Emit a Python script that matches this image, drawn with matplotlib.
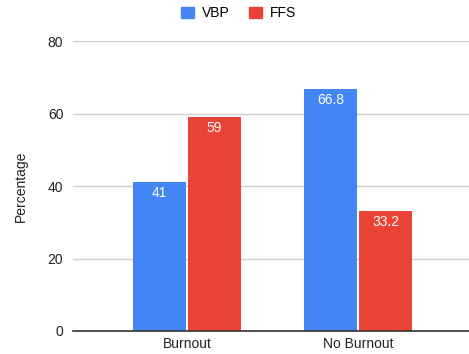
import matplotlib

matplotlib.use("Agg")
import matplotlib.pyplot as plt
import numpy as np
from matplotlib.patches import Patch

plt.rcParams["font.family"] = ["Liberation Sans", "DejaVu Sans"]

categories = ["Burnout", "No Burnout"]
vbp = [41, 66.8]
ffs = [59, 33.2]

BLUE = "#4285F4"
RED = "#EA4335"

fig = plt.figure(figsize=(4.69, 3.54), dpi=100, facecolor="white")
ax = fig.add_axes([0.1557, 0.065, 0.8443, 0.819])

x = np.arange(len(categories))
w = 0.31
off = 0.161
b1 = ax.bar(x - off, vbp, w, color=BLUE, zorder=3)
b2 = ax.bar(x + off, ffs, w, color=RED, zorder=3)

for bars, vals in ((b1, vbp), (b2, ffs)):
    for rect, v in zip(bars, vals):
        label = f"{v:g}"
        ax.text(rect.get_x() + rect.get_width() / 2, v - 3.0, label,
                ha="center", va="center", color="white", fontsize=10, zorder=4)

ax.set_xlim(-0.667, 1.649)
ax.set_ylim(0, 80)
ax.set_yticks([0, 20, 40, 60, 80])
ax.set_xticks(x)
ax.set_xticklabels(categories, fontsize=10)
ax.tick_params(axis="both", length=0, labelsize=10, colors="#222222")
ax.tick_params(axis="y", pad=7)
ax.tick_params(axis="x", pad=4)
ax.grid(axis="y", color="#d0d0d0", lw=1, zorder=0)
for s in ("top", "right", "left"):
    ax.spines[s].set_visible(False)
ax.spines["bottom"].set_color("#333333")
ax.spines["bottom"].set_linewidth(1.2)
ax.spines["bottom"].set_zorder(5)
ax.set_ylabel("Percentage", fontsize=10, color="#222222", labelpad=14)

handles = [Patch(color=BLUE, label="VBP"), Patch(color=RED, label="FFS")]
fig.legend(handles=handles, loc="center", bbox_to_anchor=(0.509, 0.963), ncol=2,
           frameon=False, fontsize=10, handlelength=0.9, handleheight=0.9,
           handletextpad=0.6, columnspacing=1.4)

fig.savefig("out.png", dpi=100, facecolor="white")
